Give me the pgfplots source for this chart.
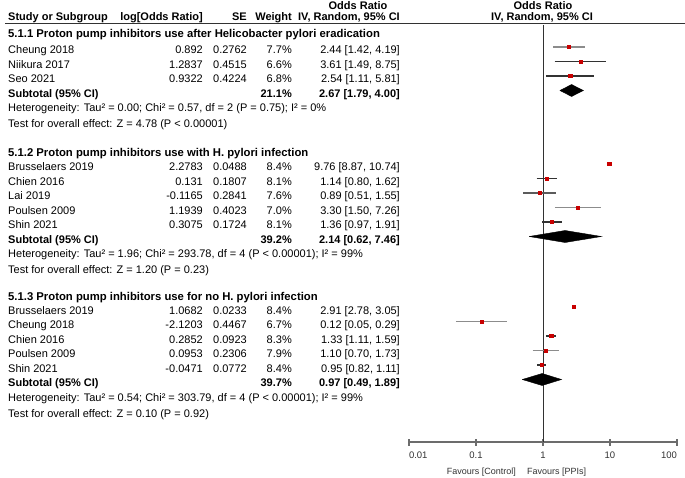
\documentclass[border=0pt]{standalone}
\usepackage{fontspec}
\setmainfont{Liberation Sans}
\usepackage{pgfplots}
\pgfplotsset{compat=1.18}
\usepackage{pgfplotstable}

\definecolor{mk}{RGB}{200,0,0}
\definecolor{dk}{RGB}{50,50,50}
\definecolor{lt}{RGB}{140,140,140}

% study estimates: odds ratio and row position (px from top)
\pgfplotstableread{
or    y
2.44  47
3.61  61.5
2.54  76
9.76  164
1.14  178.5
0.89  193
3.30  207.5
1.36  222
2.91  307
0.12  321.5
1.33  336
1.10  350.5
0.95  365
}\studies

% one CI line: lo, hi, y, colour
\newcommand{\ci}[4]{\addplot[draw=#4, line width=1.3pt] coordinates {(#1,-#3) (#2,-#3)};}
% subtotal diamond: lo, est, hi, y
\newcommand{\dia}[4]{\addplot[draw=black, fill=black] coordinates {(#1,-#4) (#2,-#4+6) (#3,-#4) (#2,-#4-6) (#1,-#4)};}

% table row: y, name, log OR, SE, weight, OR [CI]
\newcommand{\row}[6]{%
  \node[anchor=base west] at (8,-#1-4) {#2};
  \node[anchor=base east] at (203,-#1-4) {#3};
  \node[anchor=base east] at (247,-#1-4) {#4};
  \node[anchor=base east] at (292,-#1-4) {#5};
  \node[anchor=base east] at (400,-#1-4) {#6};}
\newcommand{\sub}[3]{%
  \node[anchor=base west] at (8,-#1-4) {\bfseries Subtotal (95\% CI)};
  \node[anchor=base east] at (292,-#1-4) {\bfseries #2};
  \node[anchor=base east] at (400,-#1-4) {\bfseries #3};}
\newcommand{\txt}[2]{\node[anchor=base west] at (8,-#1-4) {#2};}
\newcommand{\head}[2]{\node[anchor=base west, font=\fontsize{11.3}{13}\selectfont\bfseries] at (8,-#1-4) {#2};}

\begin{document}
\begin{tikzpicture}[font=\fontsize{11}{13}\selectfont, inner sep=0pt]
\begin{scope}[x=1pt, y=1pt]
\useasboundingbox (0,0) rectangle (685,-478);

% header
\node[font=\fontsize{11}{13}\selectfont\bfseries] at (358,-6) {Odds Ratio};
\node[font=\fontsize{11}{13}\selectfont\bfseries] at (543,-6) {Odds Ratio};
\node[anchor=base west, font=\fontsize{11}{13}\selectfont\bfseries] at (8,-21) {Study or Subgroup};
\node[anchor=base east, font=\fontsize{11}{13}\selectfont\bfseries] at (203,-21) {log[Odds Ratio]};
\node[anchor=base east, font=\fontsize{11}{13}\selectfont\bfseries] at (247,-21) {SE};
\node[anchor=base east, font=\fontsize{11}{13}\selectfont\bfseries] at (292,-21) {Weight};
\node[anchor=base east, font=\fontsize{11}{13}\selectfont\bfseries] at (400,-21) {IV, Random, 95\% CI};
\node[anchor=base, font=\fontsize{11}{13}\selectfont\bfseries] at (542,-21) {IV, Random, 95\% CI};
\draw[dk, line width=1pt] (5,-24) -- (685,-24);

% 5.1.1
\head{34}{5.1.1 Proton pump inhibitors use after Helicobacter pylori eradication}
\row{50}{Cheung 2018}{0.892}{0.2762}{7.7\%}{2.44 [1.42, 4.19]}
\row{64.5}{Niikura 2017}{1.2837}{0.4515}{6.6\%}{3.61 [1.49, 8.75]}
\row{79}{Seo 2021}{0.9322}{0.4224}{6.8\%}{2.54 [1.11, 5.81]}
\sub{93.5}{21.1\%}{2.67 [1.79, 4.00]}
\txt{108}{Heterogeneity: Tau² = 0.00; Chi² = 0.57, df = 2 (P = 0.75); I² = 0\%}
\txt{124}{Test for overall effect: Z = 4.78 (P < 0.00001)}

% 5.1.2
\head{153}{5.1.2 Proton pump inhibitors use with H. pylori infection}
\row{167}{Brusselaers 2019}{2.2783}{0.0488}{8.4\%}{9.76 [8.87, 10.74]}
\row{181.5}{Chien 2016}{0.131}{0.1807}{8.1\%}{1.14 [0.80, 1.62]}
\row{196}{Lai 2019}{-0.1165}{0.2841}{7.6\%}{0.89 [0.51, 1.55]}
\row{210.5}{Poulsen 2009}{1.1939}{0.4023}{7.0\%}{3.30 [1.50, 7.26]}
\row{225}{Shin 2021}{0.3075}{0.1724}{8.1\%}{1.36 [0.97, 1.91]}
\sub{239.5}{39.2\%}{2.14 [0.62, 7.46]}
\txt{254}{Heterogeneity: Tau² = 1.96; Chi² = 293.78, df = 4 (P < 0.00001); I² = 99\%}
\txt{269}{Test for overall effect: Z = 1.20 (P = 0.23)}

% 5.1.3
\head{296}{5.1.3 Proton pump inhibitors use for no H. pylori infection}
\row{310}{Brusselaers 2019}{1.0682}{0.0233}{8.4\%}{2.91 [2.78, 3.05]}
\row{324.5}{Cheung 2018}{-2.1203}{0.4467}{6.7\%}{0.12 [0.05, 0.29]}
\row{339}{Chien 2016}{0.2852}{0.0923}{8.3\%}{1.33 [1.11, 1.59]}
\row{353.5}{Poulsen 2009}{0.0953}{0.2306}{7.9\%}{1.10 [0.70, 1.73]}
\row{368}{Shin 2021}{-0.0471}{0.0772}{8.4\%}{0.95 [0.82, 1.11]}
\sub{382.5}{39.7\%}{0.97 [0.49, 1.89]}
\txt{397}{Heterogeneity: Tau² = 0.54; Chi² = 303.79, df = 4 (P < 0.00001); I² = 99\%}
\txt{413}{Test for overall effect: Z = 0.10 (P = 0.92)}

% favours
\node[anchor=base east, font=\fontsize{9}{10}\selectfont, text=dk] at (516,-474) {Favours [Control]};
\node[anchor=base west, font=\fontsize{9}{10}\selectfont, text=dk] at (527,-474) {Favours [PPIs]};
\end{scope}

\begin{axis}[
  at={(409pt,-442pt)}, anchor=south west,
  scale only axis, width=268pt, height=417pt,
  xmode=log, xmin=0.01, xmax=100, ymin=-442, ymax=-25,
  clip=false,
  hide y axis,
  axis x line*=bottom,
  x axis line style={-, draw=gray!85!black, line width=1.2pt},
  xtick={0.01,0.1,1,10,100},
  xticklabels={\makebox[0pt][l]{0.01}, 0.1, 1, 10, \makebox[0pt][r]{100}},
  xminorticks=false,
  tick align=center,
  major tick length=7pt,
  x tick style={draw=gray!85!black, line width=1.2pt},
  xticklabel style={font=\fontsize{9.5}{10}\selectfont, text=dk, yshift=-6pt},
]
\addplot[draw=dk, line width=1pt] coordinates {(1,-25) (1,-442)};

\ci{1.42}{4.19}{47}{lt}
\ci{1.49}{8.75}{61.5}{dk}
\ci{1.11}{5.81}{76}{dk}
\ci{8.87}{10.74}{164}{lt}
\ci{0.80}{1.62}{178.5}{dk}
\ci{0.51}{1.55}{193}{dk!80}
\ci{1.50}{7.26}{207.5}{lt}
\ci{0.97}{1.91}{222}{dk}
\ci{2.78}{3.05}{307}{lt}
\ci{0.05}{0.29}{321.5}{lt}
\ci{1.11}{1.59}{336}{dk}
\ci{0.70}{1.73}{350.5}{lt}
\ci{0.82}{1.11}{365}{dk}

\dia{1.79}{2.67}{4.00}{90.5}
\dia{0.62}{2.14}{7.46}{236.5}
\dia{0.49}{0.97}{1.89}{379.5}

\addplot[only marks, mark=square*, mark size=1.6pt, mark options={draw=mk, fill=mk}] table[x=or, y expr=-\thisrow{y}] {\studies};
\end{axis}
\end{tikzpicture}
\end{document}
